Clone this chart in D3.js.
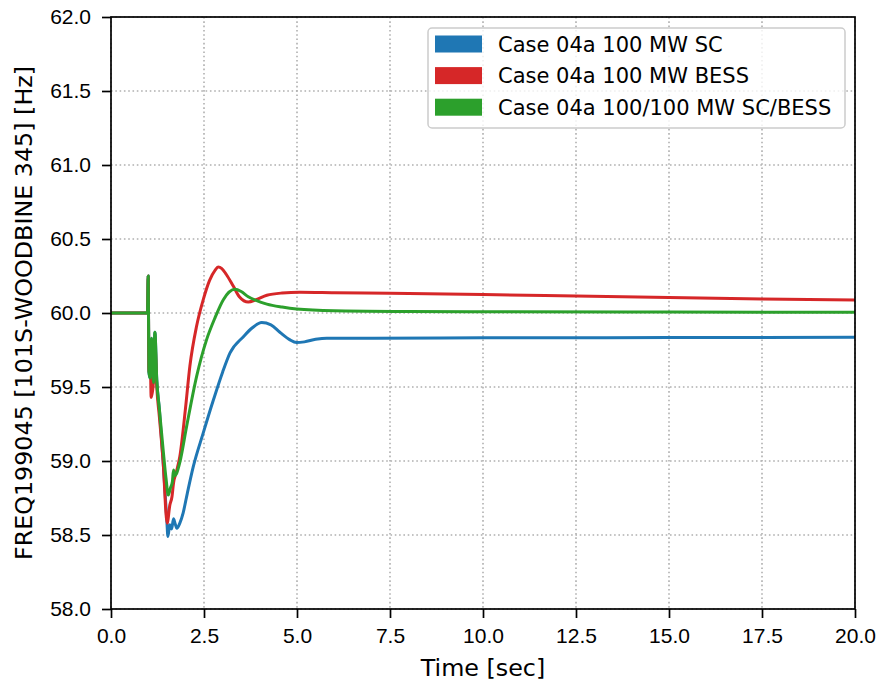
<!DOCTYPE html>
<html lang="en">
<head>
<meta charset="UTF-8">
<script src="https://d3js.org/d3.v7.min.js"></script>
<style>
  body { margin: 0; background: #fff; }
  svg { font-family: "DejaVu Sans", sans-serif; }
  .grid line { stroke: #b0b0b0; stroke-width: 1.6; stroke-dasharray: 1.6 2.7; }
  .axis text { font-size: 21px; fill: #000; }
  .axis line, .axis path { stroke: #000; stroke-width: 1.7; }
  .series { fill: none; stroke-width: 3; stroke-linejoin: round; }
</style>
</head>
<body>
<svg width="883" height="687"></svg>
<script>
// time [sec] and frequency [Hz]
const scTime = [0, 0.98, 1.0, 1.02, 1.05, 1.09, 1.14, 1.18, 1.23, 1.3, 1.4, 1.5, 1.53, 1.58, 1.63, 1.68, 1.72, 1.77, 1.85, 1.94, 2.05, 2.21, 2.48, 2.75, 3.0, 3.2, 3.56, 3.8, 4.05, 4.3, 4.54, 4.8, 4.99, 5.2, 5.5, 5.8, 7, 10, 15, 20];
const scFreq = [60, 60, 60.25, 59.6, 59.56, 59.83, 59.53, 59.87, 59.55, 59.35, 59.0, 58.6, 58.49, 58.57, 58.54, 58.61, 58.58, 58.545, 58.58, 58.65, 58.78, 58.96, 59.19, 59.41, 59.6, 59.73, 59.84, 59.9, 59.935, 59.92, 59.87, 59.82, 59.80, 59.805, 59.822, 59.83, 59.83, 59.832, 59.834, 59.836];

const bessTime = [0, 0.98, 1.0, 1.02, 1.05, 1.08, 1.14, 1.18, 1.23, 1.3, 1.4, 1.51, 1.58, 1.64, 1.68, 1.75, 1.85, 2.0, 2.12, 2.3, 2.48, 2.65, 2.8, 2.88, 2.98, 3.1, 3.29, 3.45, 3.69, 3.9, 4.19, 4.6, 5.08, 6, 7.5, 10, 12.5, 15, 17.5, 20];
const bessFreq = [60, 60, 60.25, 59.6, 59.75, 59.43, 59.53, 59.8, 59.5, 59.3, 59.0, 58.58, 58.7, 58.76, 58.85, 58.92, 59.03, 59.35, 59.64, 59.91, 60.09, 60.22, 60.29, 60.31, 60.30, 60.26, 60.18, 60.11, 60.074, 60.09, 60.12, 60.135, 60.14, 60.137, 60.133, 60.125, 60.115, 60.105, 60.095, 60.087];

const bothTime = [0, 0.98, 1.0, 1.02, 1.05, 1.09, 1.14, 1.18, 1.23, 1.3, 1.4, 1.48, 1.54, 1.6, 1.65, 1.68, 1.72, 1.77, 1.85, 2.03, 2.3, 2.57, 2.8, 3.02, 3.33, 3.5, 3.69, 3.9, 4.19, 4.6, 4.99, 6, 8, 10, 15, 20];
const bothFreq = [60, 60, 60.25, 59.6, 59.56, 59.83, 59.53, 59.87, 59.55, 59.35, 59.08, 58.88, 58.77, 58.82, 58.86, 58.94, 58.9, 58.92, 58.99, 59.23, 59.57, 59.82, 59.97, 60.09, 60.16, 60.145, 60.11, 60.085, 60.06, 60.04, 60.027, 60.015, 60.01, 60.008, 60.006, 60.005];

const seriesNames = ["Case 04a 100 MW SC", "Case 04a 100 MW BESS", "Case 04a 100/100 MW SC/BESS"];
const seriesColors = ["#1f77b4", "#d62728", "#2ca02c"];
const xTicks = [0, 2.5, 5, 7.5, 10, 12.5, 15, 17.5, 20];
const yTicks = [58, 58.5, 59, 59.5, 60, 60.5, 61, 61.5, 62];

const margin = { top: 17, right: 28, bottom: 78, left: 111 },
      width = 883 - margin.left - margin.right,
      height = 687 - margin.top - margin.bottom;

const svg = d3.select("svg");
const g = svg.append("g").attr("transform", `translate(${margin.left},${margin.top})`);

const x = d3.scaleLinear().domain([0, 20]).range([0, width]);
const y = d3.scaleLinear().domain([58, 62]).range([height, 0]);

// grid
g.append("g").attr("class", "grid")
  .selectAll("line").data(xTicks).join("line")
  .attr("x1", d => x(d)).attr("x2", d => x(d)).attr("y1", 0).attr("y2", height);
g.append("g").attr("class", "grid")
  .selectAll("line").data(yTicks).join("line")
  .attr("y1", d => y(d)).attr("y2", d => y(d)).attr("x1", 0).attr("x2", width);

// series
const line = d3.line().x(d => x(d[0])).y(d => y(d[1])).curve(d3.curveMonotoneX);
const allSeries = [
  d3.zip(scTime, scFreq),
  d3.zip(bessTime, bessFreq),
  d3.zip(bothTime, bothFreq)
];
g.append("g").selectAll("path").data(allSeries).join("path")
  .attr("class", "series")
  .attr("stroke", (d, i) => seriesColors[i])
  .attr("d", line);

// frame
g.append("rect").attr("width", width).attr("height", height)
  .attr("fill", "none").attr("stroke", "#000").attr("stroke-width", 1.7);

// axes
g.append("g").attr("class", "axis")
  .attr("transform", `translate(0,${height})`)
  .call(d3.axisBottom(x).tickValues(xTicks).tickFormat(d3.format(".1f")).tickSize(9).tickPadding(10))
  .call(a => a.select(".domain").remove());
g.append("g").attr("class", "axis")
  .call(d3.axisLeft(y).tickValues(yTicks).tickFormat(d3.format(".1f")).tickSize(9).tickPadding(11))
  .call(a => a.select(".domain").remove());

// axis labels
svg.append("text")
  .attr("x", margin.left + width / 2).attr("y", 676)
  .attr("text-anchor", "middle").attr("font-size", 23.8)
  .text("Time [sec]");
svg.append("text")
  .attr("transform", `translate(32,${margin.top + height / 2}) rotate(-90)`)
  .attr("text-anchor", "middle").attr("font-size", 23.8)
  .text("FREQ199045 [101S-WOODBINE 345] [Hz]");

// legend
const legend = svg.append("g").attr("transform", "translate(428,28)");
legend.append("rect").attr("width", 417).attr("height", 100).attr("rx", 4)
  .attr("fill", "#fff").attr("fill-opacity", 0.8)
  .attr("stroke", "#cccccc").attr("stroke-width", 1.5);
const rows = legend.selectAll("g.row").data(seriesNames).join("g")
  .attr("class", "row")
  .attr("transform", (d, i) => `translate(0,${16 + i * 31.6})`);
rows.append("rect").attr("x", 7).attr("y", -8.5).attr("width", 47).attr("height", 17)
  .attr("fill", (d, i) => seriesColors[i]);
rows.append("text").attr("x", 70).attr("y", 7.5).attr("font-size", 21)
  .text(d => d);
</script>
</body>
</html>
